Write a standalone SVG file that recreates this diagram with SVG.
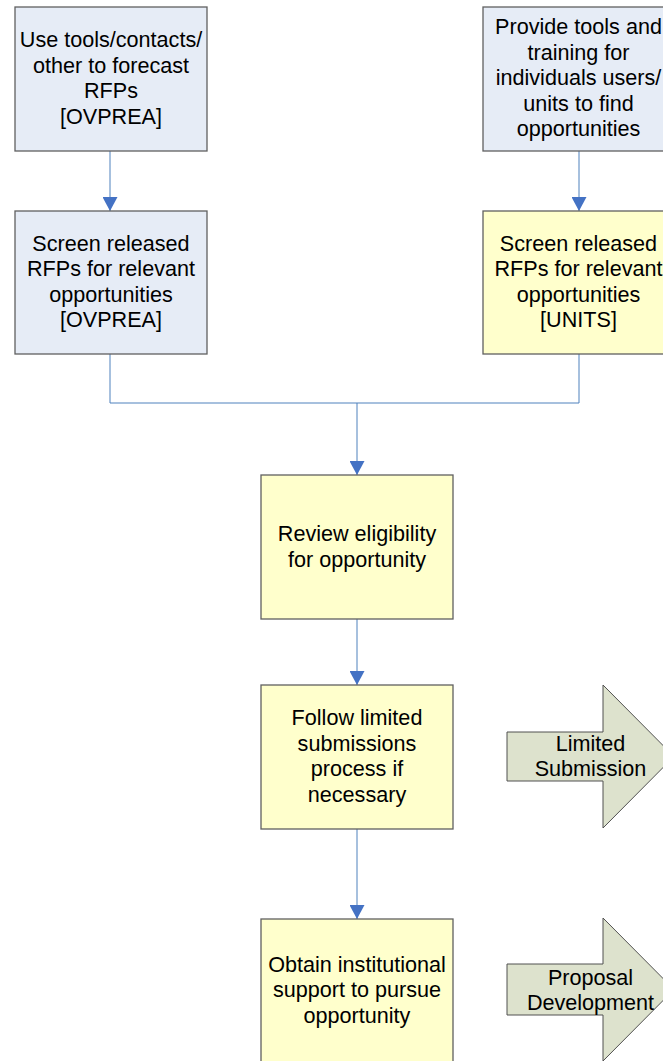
<svg xmlns="http://www.w3.org/2000/svg" width="663" height="1061" viewBox="0 0 663 1061">
<defs>
<style>
.t{font-family:"Liberation Sans",Arial,sans-serif;font-size:21.6px;fill:#000;text-anchor:middle}
.b{fill:#E6ECF6;stroke:#606060;stroke-width:1.3}
.y{fill:#FFFFCC;stroke:#606060;stroke-width:1.3}
.g{fill:#DDE2CD;stroke:#505050;stroke-width:1}
.c{fill:none;stroke:#4F81BD;stroke-width:1}
</style>
<marker id="ah" markerUnits="userSpaceOnUse" markerWidth="15" markerHeight="15" refX="14" refY="7.5" orient="auto">
<path d="M0,0 L14,7.5 L0,15 z" fill="#4472C4"/>
</marker>
</defs>
<rect width="663" height="1061" fill="#fff"/>
<g id="connectors">
<path class="c" d="M110,151 V211" marker-end="url(#ah)"/>
<path class="c" d="M579,151 V211" marker-end="url(#ah)"/>
<path class="c" d="M110,354 V403 H579 V354"/>
<path class="c" d="M357,403 V475" marker-end="url(#ah)"/>
<path class="c" d="M357,619 V685" marker-end="url(#ah)"/>
<path class="c" d="M357,829 V919" marker-end="url(#ah)"/>
</g>
<g id="forecast">
<rect class="b" x="15" y="7" width="192" height="144"/>
<text class="t" x="111" y="47">Use tools/contacts/</text>
<text class="t" x="111" y="72.5">other to forecast</text>
<text class="t" x="111" y="98">RFPs</text>
<text class="t" x="111" y="123.5">[OVPREA]</text>
</g>
<g id="screen-ovprea">
<rect class="b" x="15" y="211" width="192" height="143"/>
<text class="t" x="111" y="250.5">Screen released</text>
<text class="t" x="111" y="276">RFPs for relevant</text>
<text class="t" x="111" y="301.5">opportunities</text>
<text class="t" x="111" y="327">[OVPREA]</text>
</g>
<g id="provide-tools">
<rect class="b" x="483" y="7" width="192" height="144"/>
<text class="t" x="578.5" y="34">Provide tools and</text>
<text class="t" x="578.5" y="59.5">training for</text>
<text class="t" x="578.5" y="85">individuals users/</text>
<text class="t" x="578.5" y="110.5">units to find</text>
<text class="t" x="578.5" y="136">opportunities</text>
</g>
<g id="screen-units">
<rect class="y" x="483" y="211" width="192" height="143"/>
<text class="t" x="578.5" y="250.5">Screen released</text>
<text class="t" x="578.5" y="276">RFPs for relevant</text>
<text class="t" x="578.5" y="301.5">opportunities</text>
<text class="t" x="578.5" y="327">[UNITS]</text>
</g>
<g id="review">
<rect class="y" x="261" y="475" width="192" height="144"/>
<text class="t" x="357" y="541">Review eligibility</text>
<text class="t" x="357" y="566.5">for opportunity</text>
</g>
<g id="limited-process">
<rect class="y" x="261" y="685" width="192" height="144"/>
<text class="t" x="357" y="725">Follow limited</text>
<text class="t" x="357" y="750.5">submissions</text>
<text class="t" x="357" y="776">process if</text>
<text class="t" x="357" y="801.5">necessary</text>
</g>
<g id="obtain-support">
<rect class="y" x="261" y="919" width="192" height="144"/>
<text class="t" x="357" y="971.5">Obtain institutional</text>
<text class="t" x="357" y="997">support to pursue</text>
<text class="t" x="357" y="1022.5">opportunity</text>
</g>
<g id="limited-submission">
<polygon class="g" points="507,732 603,732 603,685 674,756.5 603,828 603,781 507,781"/>
<text class="t" x="590.5" y="751">Limited</text>
<text class="t" x="590.5" y="776">Submission</text>
</g>
<g id="proposal-development">
<polygon class="g" points="507,964 603,964 603,918 674,989.5 603,1061 603,1015 507,1015"/>
<text class="t" x="590.5" y="984.5">Proposal</text>
<text class="t" x="590.5" y="1009.5">Development</text>
</g>
</svg>
